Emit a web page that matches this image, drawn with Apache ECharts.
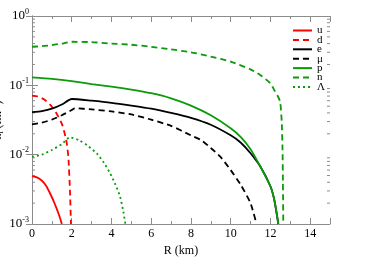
<!DOCTYPE html>
<html><head><meta charset="utf-8">
<script src="https://cdn.jsdelivr.net/npm/echarts@6/dist/echarts.min.js"></script>
<style>html,body{margin:0;padding:0;background:#fff}#c{width:373px;height:270px}</style>
</head><body><div id="c"></div>
<script>
// Data: [R (km), particle density]
const uData = [[0,0.0049],[0.25,0.0047],[0.5,0.0042],[0.7,0.0036],[0.9,0.0028],[1.1,0.0021],[1.3,0.0015],[1.42,0.0012],[1.5,0.001]];
const dData = [[0,0.071],[0.3,0.069],[0.6,0.063],[0.9,0.053],[1.2,0.041],[1.5,0.028],[1.65,0.020],[1.75,0.0146],[1.83,0.0093],[1.91,0.0031],[1.96,0.001]];
const eData = [[0,0.041],[0.5,0.0425],[1.0,0.046],[1.5,0.053],[2.0,0.0635],[3,0.060],[4,0.056],[5,0.051],[6,0.046],[7,0.040],[8,0.034],[9,0.027],[10,0.019],[10.5,0.015],[11,0.0105],[11.5,0.0067],[12,0.0035],[12.2,0.0022],[12.4,0.001]];
const muData = [[0,0.0274],[0.5,0.029],[1.0,0.032],[1.5,0.037],[2.0,0.044],[2.15,0.0466],[3,0.045],[4,0.042],[5,0.038],[6,0.032],[7,0.026],[8,0.019],[8.5,0.0163],[9,0.0125],[9.5,0.0092],[10,0.006],[10.5,0.0037],[11,0.002],[11.3,0.001]];
const pData = [[0,0.130],[1,0.124],[2,0.115],[3,0.104],[4,0.096],[5,0.087],[6,0.077],[7,0.065],[8,0.051],[9,0.037],[10,0.024],[10.5,0.018],[11,0.012],[11.5,0.0067],[12,0.0035],[12.2,0.0022],[12.4,0.001]];
const nData = [[0,0.36],[0.5,0.367],[1,0.38],[1.5,0.40],[2,0.425],[3,0.42],[4,0.40],[5,0.385],[6,0.36],[7,0.33],[8,0.30],[9,0.26],[10,0.22],[11,0.17],[11.5,0.14],[12,0.107],[12.2,0.085],[12.35,0.072],[12.49,0.058],[12.57,0.030],[12.61,0.012],[12.63,0.004],[12.65,0.001]];
const lamData = [[0,0.0093],[0.5,0.0100],[1.0,0.0117],[1.5,0.0142],[1.9,0.0178],[2.4,0.016],[2.8,0.0135],[3.26,0.0104],[3.6,0.0078],[3.93,0.0054],[4.2,0.0037],[4.43,0.0025],[4.6,0.0015],[4.7,0.001]];
const names = ['u','d','e','\u03bc','p','n','\u039b'];
const yMinorTicks = [0.002,0.003,0.004,0.005,0.006,0.007,0.008,0.009,0.02,0.03,0.04,0.05,0.06,0.07,0.08,0.09,0.2,0.3,0.4,0.5,0.6,0.7,0.8,0.9];

const RED = '#ff0000', GREEN = '#0a9a0a', BLACK = '#000000', AX = '#8c8c8c';
const serif = 'Liberation Serif';
function line(name, data, color, type) {
  return {name: name, type: 'line', data: data, symbol: 'none', smooth: 0.2,
    lineStyle: {color: color, width: 1.8, type: type}, itemStyle: {color: color},
    xAxisIndex: 0, yAxisIndex: 0, z: 3};
}
const chart = echarts.init(document.getElementById('c'), null, {renderer: 'canvas'});
const tickSeries = {
  type: 'custom', xAxisIndex: 0, yAxisIndex: 0, silent: true, clip: false, z: 1,
  data: yMinorTicks.map(v => [0, v]),
  renderItem: function (params, api) {
    const v = api.value(1);
    const l = api.coord([0, v]);
    const r = api.coord([15, v]);
    return {type: 'group', children: [
      {type: 'line', shape: {x1: l[0], y1: l[1], x2: l[0] + 3, y2: l[1]}, style: {stroke: AX, lineWidth: 1}},
      {type: 'line', shape: {x1: r[0], y1: r[1], x2: r[0] - 3, y2: r[1]}, style: {stroke: AX, lineWidth: 1}}
    ]};
  }
};
const yLabel = function (v) {
  const e = Math.round(Math.log10(v));
  return '{b|10}{s|' + e + '}';
};
const option = {
  animation: false,
  backgroundColor: '#fff',
  grid: {left: 32, right: 43, top: 16, bottom: 46, containLabel: false, outerBoundsMode: 'none'},
  legend: {
    orient: 'vertical', left: 287, top: 20, itemWidth: 19, itemHeight: 8, itemGap: -1.6,
    data: names, itemStyle: {opacity: 0},
    textStyle: {fontFamily: serif, fontSize: 11, color: '#000', lineHeight: 8}
  },
  xAxis: [{
    type: 'value', min: 0, max: 15, interval: 2, position: 'bottom',
    name: 'R (km)', nameLocation: 'middle', nameGap: 16,
    nameTextStyle: {fontFamily: serif, fontSize: 12, color: '#000'},
    axisLine: {lineStyle: {color: AX}}, splitLine: {show: false},
    axisTick: {inside: true, length: 6, lineStyle: {color: AX}},
    minorTick: {show: true, splitNumber: 2, length: 3, lineStyle: {color: AX}},
    axisLabel: {fontFamily: serif, fontSize: 12, color: '#000', margin: 4, showMaxLabel: false}
  }, {
    type: 'value', min: 0, max: 15, interval: 2, position: 'top',
    axisLine: {lineStyle: {color: AX}}, splitLine: {show: false},
    axisTick: {inside: true, length: 6, lineStyle: {color: AX}},
    minorTick: {show: true, splitNumber: 2, length: 3, lineStyle: {color: AX}},
    axisLabel: {show: false}
  }],
  yAxis: [{
    type: 'log', logBase: 10, min: 0.001, max: 1, position: 'left',
    name: 'n{sub|i} (fm{sup|-3})', nameLocation: 'middle', nameGap: 27, nameRotate: 90,
    nameMoveOverlap: false,
    nameTextStyle: {fontFamily: serif, fontSize: 12, color: '#000',
      rich: {sub: {fontSize: 8, fontFamily: serif, padding: [6,0,0,0]}, sup: {fontSize: 8, fontFamily: serif, padding: [0,0,6,0]}}},
    axisLine: {lineStyle: {color: AX}}, splitLine: {show: false},
    axisTick: {inside: true, length: 6, lineStyle: {color: AX}},
    axisLabel: {formatter: yLabel, margin: 3, color: '#000',
      rich: {b: {fontFamily: serif, fontSize: 13, color: '#000'},
             s: {fontFamily: serif, fontSize: 8, color: '#000', padding: [0,0,9,0]}}}
  }, {
    type: 'log', logBase: 10, min: 0.001, max: 1, position: 'right',
    axisLine: {lineStyle: {color: AX}}, splitLine: {show: false},
    axisTick: {inside: true, length: 6, lineStyle: {color: AX}},
    axisLabel: {show: false}
  }],
  series: [
    line('u', uData, RED, 'solid'),
    line('d', dData, RED, [6, 4]),
    line('e', eData, BLACK, 'solid'),
    line('\u03bc', muData, BLACK, [6, 4]),
    line('p', pData, GREEN, 'solid'),
    line('n', nData, GREEN, [6, 4]),
    line('\u039b', lamData, GREEN, [2, 3]),
    tickSeries
  ]
};
chart.setOption(option);
</script></body></html>
